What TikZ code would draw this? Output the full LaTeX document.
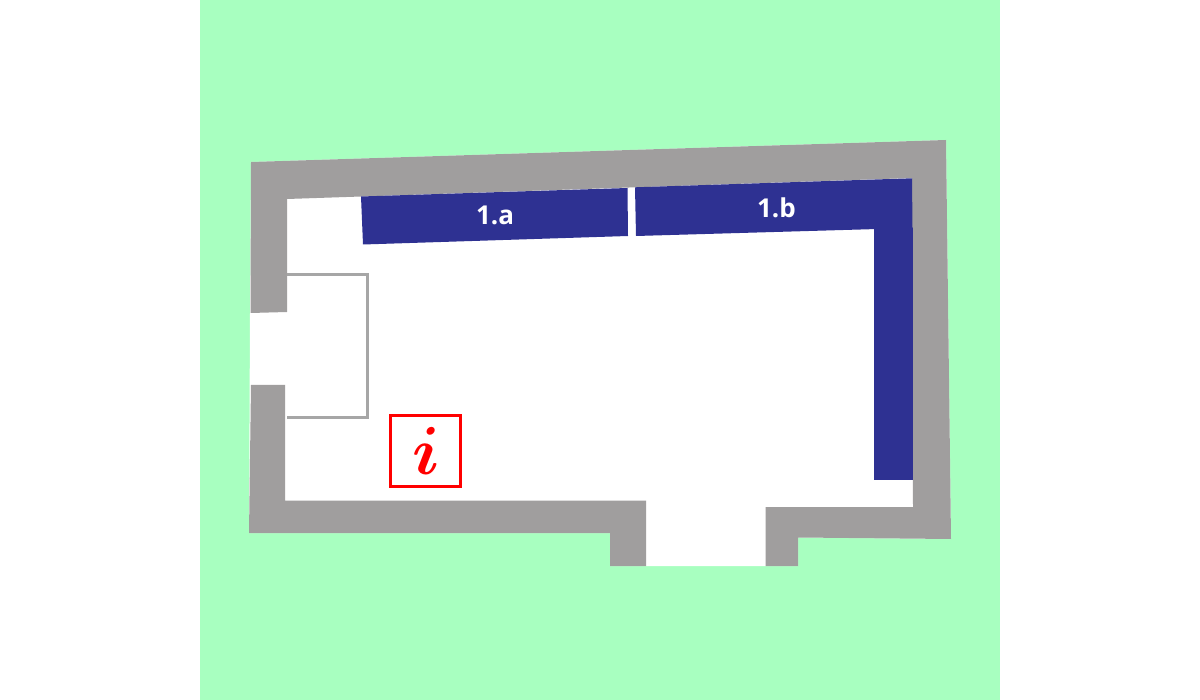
\documentclass[tikz,border=0pt]{standalone}
\usepackage{fontspec}
\usepackage{graphicx}
\setmainfont{Open Sans}
\definecolor{lawn}{HTML}{A8FFC0}
\definecolor{wall}{HTML}{A09E9E}
\definecolor{unit}{HTML}{2E3192}
\definecolor{frameline}{HTML}{A6A6A6}
\tikzset{
  wallshape/.style={fill=wall,draw=none},
  unitshape/.style={fill=unit,draw=none},
  unitlabel/.style={text=white,font=\fontsize{26}{30}\selectfont\bfseries,inner sep=0pt},
  infobox/.style={draw=red,line width=3.2pt,minimum width=70pt,minimum height=71pt,inner sep=0pt,text=red,font=\boldmath}
}
\begin{document}
\begin{tikzpicture}[x=1pt,y=-1pt]
\useasboundingbox (0,0) rectangle (1200,700);
\fill[white] (0,0) rectangle (1200,700);
\fill[lawn] (200,0) rectangle (1000,700);
% room floor and openings
\fill[white] (251,162) -- (946,140) -- (951,539) -- (798,537.5) -- (798,566) -- (610,566) -- (610,533) -- (249,533) -- (250,313) -- cycle;
% walls
\fill[wallshape] (251,162) -- (946,140) -- (951,539) -- (798,537.5) -- (798,566) -- (765.5,566) -- (765.5,507) -- (913,507) -- (912,178) -- (287,199) -- (287,312) -- (250.5,313) -- cycle;
\fill[wallshape] (251,385) -- (285,385) -- (285,500.7) -- (646,500.7) -- (646,566) -- (610,566) -- (610,533) -- (249,533) -- cycle;
% wardrobe units
\fill[unitshape] (361,196.5) -- (627.5,188) -- (628,236) -- (363,244.5) -- cycle;
\fill[unitshape] (635,187.3) -- (912,178.3) -- (912.5,228) -- (636,236) -- cycle;
\fill[unitshape] (873.5,227.7) -- (912.5,227.7) -- (912.5,480.5) -- (873.5,480.5) -- cycle;
\node[unitlabel] (a) at (495,215) {1.a};
\node[unitlabel] (b) at (776.5,207.5) {1.b};
% frame
\draw[frameline,line width=3pt,line join=miter] (287,274.3) -- (367,274.3) -- (367,417.7) -- (287,417.7);
% info
\node[infobox] (info) at (425.8,450.8) {\scalebox{6.8}{$i$}};
\end{tikzpicture}
\end{document}
